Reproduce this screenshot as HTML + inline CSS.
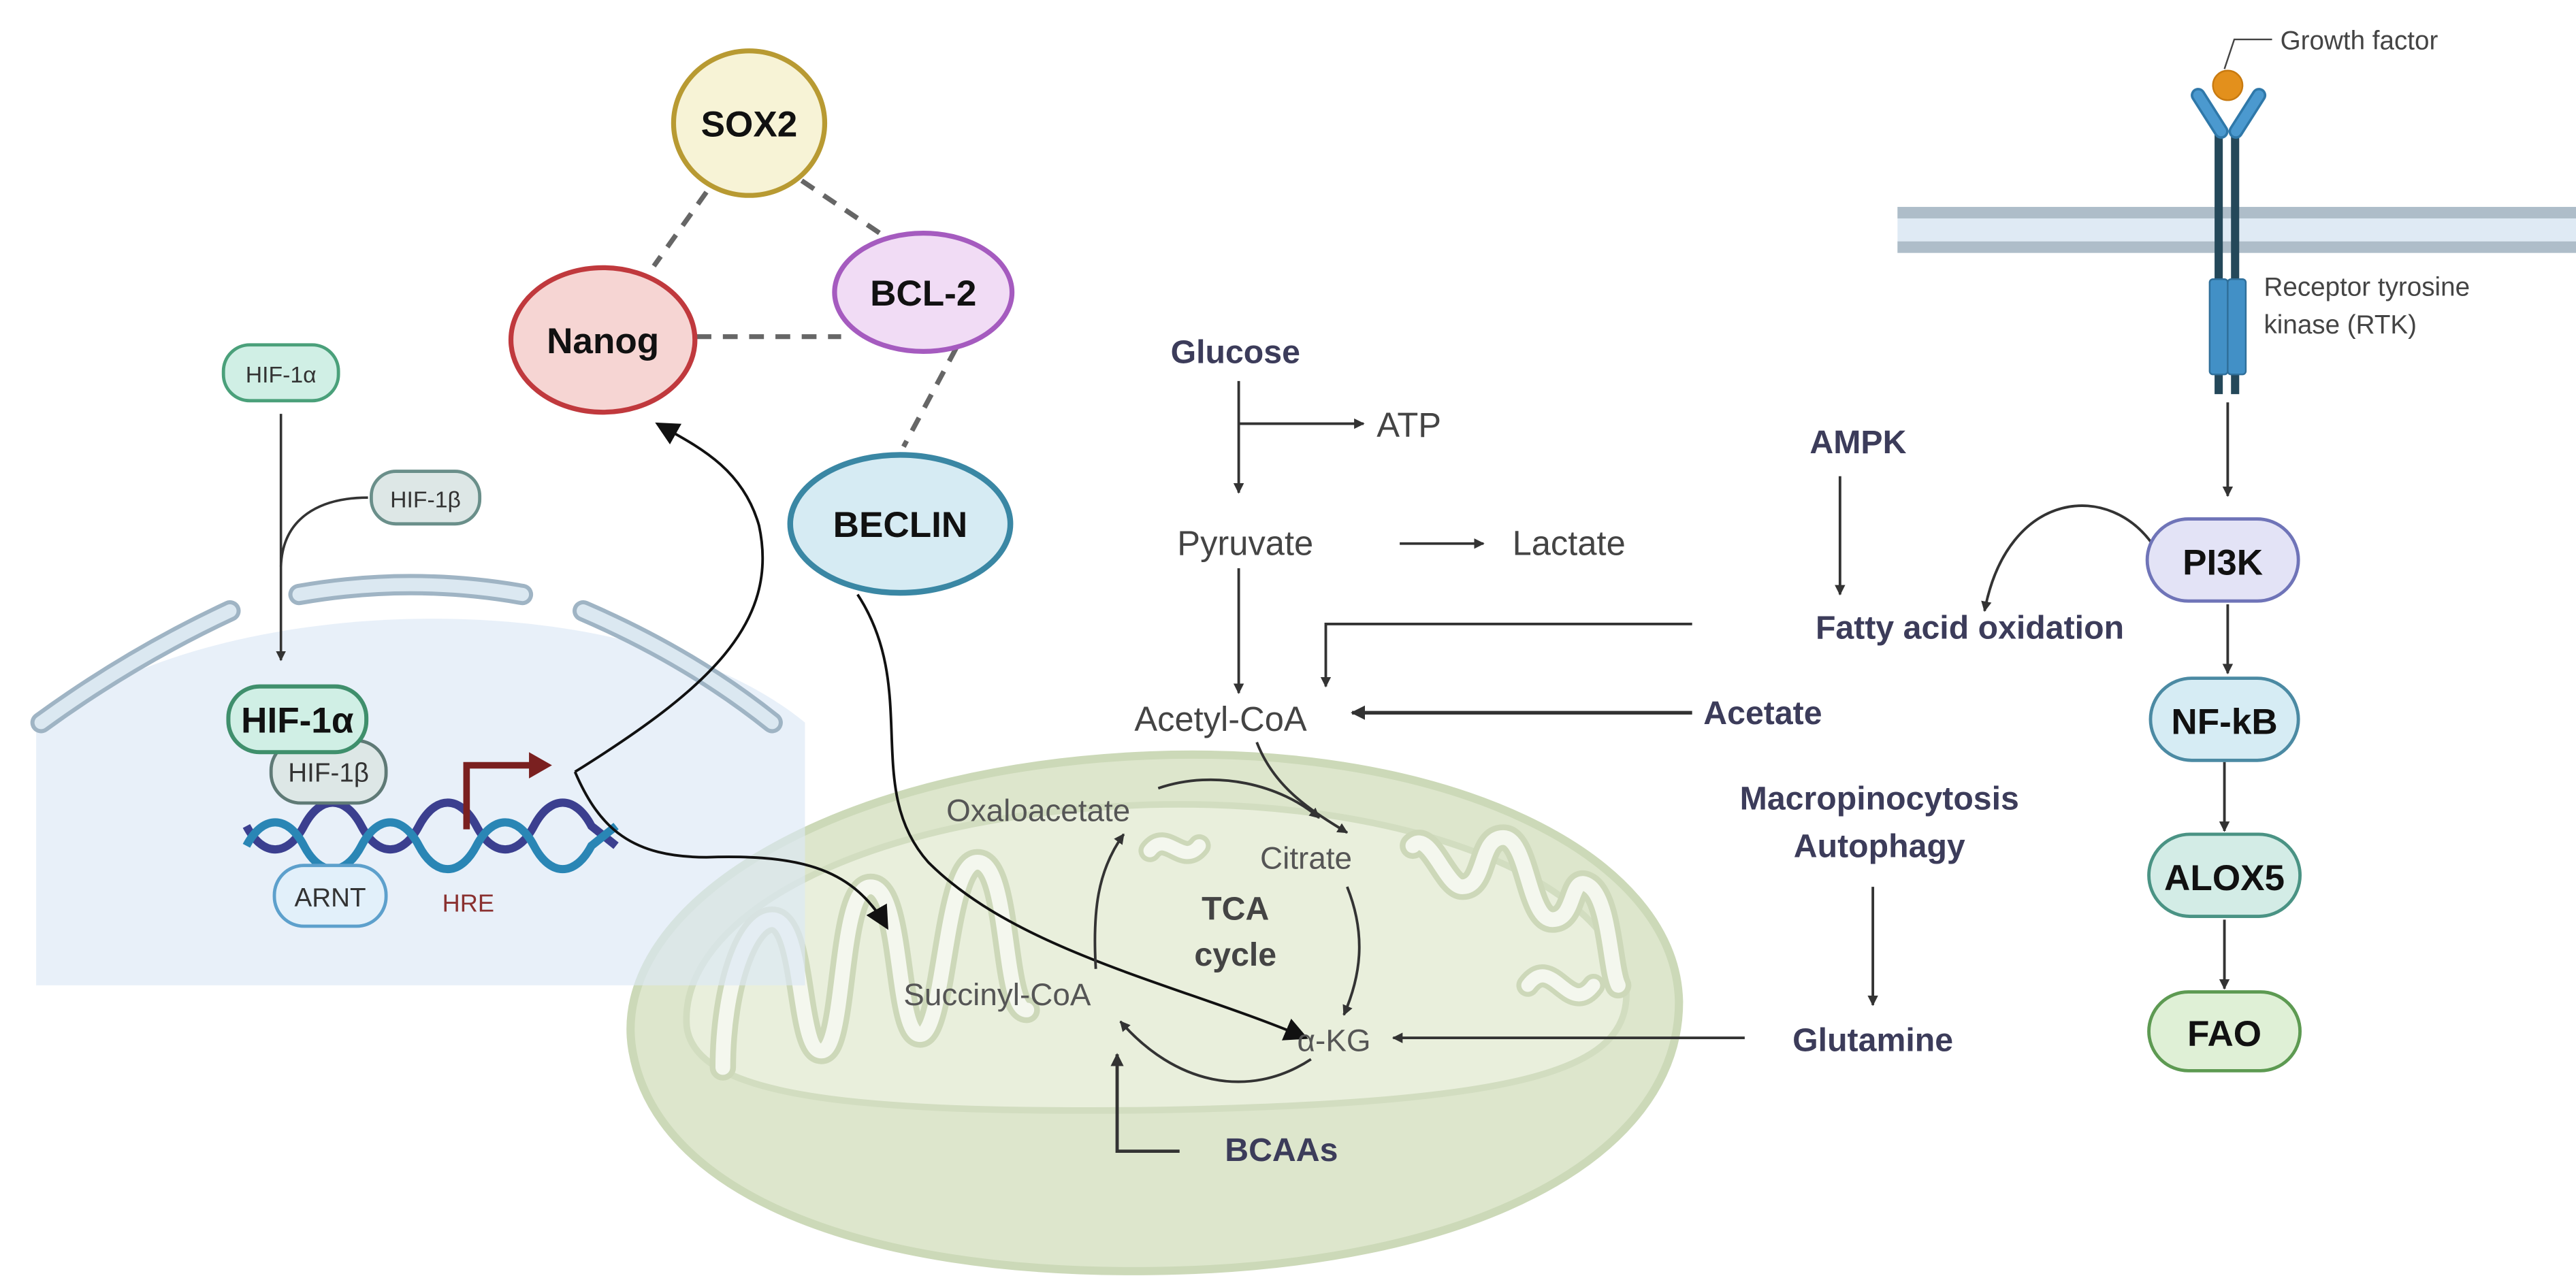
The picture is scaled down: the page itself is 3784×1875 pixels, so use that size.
<!DOCTYPE html>
<html><head><meta charset="utf-8"><style>
html,body{margin:0;padding:0;background:#fff;}
svg{display:block;}
text{font-family:"Liberation Sans",Arial,sans-serif;}
</style></head><body>
<svg width="3784" height="1875" viewBox="0 0 1568 777" preserveAspectRatio="none" xmlns="http://www.w3.org/2000/svg">
<defs>
<marker id="a" viewBox="0 0 10 10" refX="9" refY="5" markerWidth="4" markerHeight="4" orient="auto"><path d="M0,0 L10,5 L0,10 z" fill="#333"/></marker>
<marker id="b" viewBox="0 0 10 10" refX="9" refY="5" markerWidth="9" markerHeight="9" orient="auto"><path d="M0,0 L10,5 L0,10 z" fill="#111"/></marker>
</defs>
<rect width="1568" height="777" fill="#fff"/>

<!-- mitochondrion -->
<path d="M385 640 C370 555,500 468,700 460 C880 453,1020 520,1022 610 C1022 705,895 772,700 774 C520 776,400 725,385 640 Z" fill="#dde6cc" stroke="#ccd9b8" stroke-width="5"/>
<path d="M418 625 C413 560,520 496,700 490 C860 486,985 538,990 605 C990 650,935 672,700 676 C520 678,423 668,418 625 Z" fill="#e9efdc" stroke="#d2ddc0" stroke-width="4"/>
<g fill="none" stroke-linecap="round" stroke-linejoin="round">
<path id="cr" d="M440 650 C440 600,455 560,470 560 C490 560,485 640,500 640 C515 640,510 540,530 540 C550 540,545 630,560 630 C575 630,575 525,595 525 C615 525,610 615,625 615 M860 515 C870 505,880 540,890 540 C905 540,900 510,915 510 C930 510,930 560,945 560 C960 560,955 530,968 540 C980 550,980 590,985 600" stroke="#cdd8b9" stroke-width="16"/>
<path d="M440 650 C440 600,455 560,470 560 C490 560,485 640,500 640 C515 640,510 540,530 540 C550 540,545 630,560 630 C575 630,575 525,595 525 C615 525,610 615,625 615 M860 515 C870 505,880 540,890 540 C905 540,900 510,915 510 C930 510,930 560,945 560 C960 560,955 530,968 540 C980 550,980 590,985 600" stroke="#f4f7ee" stroke-width="9"/>
<path d="M700 518 C710 505,720 528,730 515 M930 600 C945 580,955 620,970 600" stroke="#cdd8b9" stroke-width="14"/>
<path d="M700 518 C710 505,720 528,730 515 M930 600 C945 580,955 620,970 600" stroke="#f4f7ee" stroke-width="8"/>
</g>

<!-- nucleus -->
<path d="M22 445 C120 360,380 350,490 440 L490 600 L22 600 Z" fill="#dce8f6" opacity="0.65"/>
<g fill="none" stroke-linecap="round">
<path d="M25 440 Q80 400 140 372" stroke="#9fb4c4" stroke-width="13"/>
<path d="M25 440 Q80 400 140 372" stroke="#dbe8f1" stroke-width="8"/>
<path d="M182 362 Q250 350 318 362" stroke="#9fb4c4" stroke-width="13"/>
<path d="M182 362 Q250 350 318 362" stroke="#dbe8f1" stroke-width="8"/>
<path d="M355 372 Q420 400 470 440" stroke="#9fb4c4" stroke-width="13"/>
<path d="M355 372 Q420 400 470 440" stroke="#dbe8f1" stroke-width="8"/>
</g>

<!-- DNA -->
<path d="M150 503 C160 522,175 522,185 503 C195 484,210 484,220 503 C230 522,245 522,255 503 C265 484,280 484,290 503 C300 522,315 522,325 503 C335 484,350 484,360 503 L375 515" fill="none" stroke="#3b3f8f" stroke-width="5"/>
<path d="M150 515 C160 496,175 496,185 515 C195 534,210 534,220 515 C230 496,245 496,255 515 C265 534,280 534,290 515 C300 496,315 496,325 515 C335 534,350 534,360 515 L375 503" fill="none" stroke="#2a86b5" stroke-width="5"/>

<rect x="167" y="527" width="68" height="37" rx="18" fill="#e2f0fa" stroke="#5da0cc" stroke-width="2"/>
<text x="201" y="552" font-size="16" text-anchor="middle" fill="#333">ARNT</text>
<text x="285" y="555" font-size="15" text-anchor="middle" fill="#8a3030">HRE</text>
<path d="M284 505 L284 466 L325 466" fill="none" stroke="#7a2020" stroke-width="4"/>
<path d="M322 458 L336 466 L322 474 Z" fill="#7a2020"/>

<rect x="165" y="451" width="70" height="38" rx="18" fill="#dde7e6" stroke="#5f7a76" stroke-width="2"/>
<text x="200" y="476" font-size="16" text-anchor="middle" fill="#333">HIF-1β</text>
<rect x="139" y="418" width="84" height="40" rx="19" fill="#d0efe5" stroke="#3f8f6c" stroke-width="2.5"/>
<text x="181" y="446" font-size="22" font-weight="bold" text-anchor="middle" fill="#111">HIF-1α</text>

<rect x="136" y="210" width="70" height="34" rx="16" fill="#d0efe5" stroke="#4aa07a" stroke-width="2"/>
<text x="171" y="233" font-size="14" text-anchor="middle" fill="#333">HIF-1α</text>
<rect x="226" y="287" width="66" height="32" rx="15" fill="#dde7e6" stroke="#6a8f8a" stroke-width="2"/>
<text x="259" y="309" font-size="14" text-anchor="middle" fill="#333">HIF-1β</text>
<path d="M171 252 L171 402" stroke="#333" stroke-width="1.5" marker-end="url(#a)"/>
<path d="M224 303 C195 303,172 315,171 345" fill="none" stroke="#333" stroke-width="1.5"/>

<!-- dashed -->
<g stroke="#666" stroke-width="3" stroke-dasharray="9,7">
<line x1="430" y1="117" x2="398" y2="162"/>
<line x1="488" y1="110" x2="540" y2="145"/>
<line x1="424" y1="205" x2="512" y2="205"/>
<line x1="582" y1="212" x2="550" y2="272"/>
</g>
<ellipse cx="456" cy="75" rx="46" ry="44" fill="#f7f3d6" stroke="#b89a32" stroke-width="3"/>
<text x="456" y="83" font-size="22" font-weight="bold" text-anchor="middle" fill="#111">SOX2</text>
<ellipse cx="367" cy="207" rx="56" ry="44" fill="#f6d5d3" stroke="#c0393d" stroke-width="3"/>
<text x="367" y="215" font-size="22" font-weight="bold" text-anchor="middle" fill="#111">Nanog</text>
<ellipse cx="562" cy="178" rx="54" ry="36" fill="#f1dcf5" stroke="#a55bbf" stroke-width="3"/>
<text x="562" y="186" font-size="22" font-weight="bold" text-anchor="middle" fill="#111">BCL-2</text>
<ellipse cx="548" cy="319" rx="67" ry="42" fill="#d6ebf3" stroke="#3a87a4" stroke-width="3.5"/>
<text x="548" y="327" font-size="22" font-weight="bold" text-anchor="middle" fill="#111">BECLIN</text>

<!-- long curves -->
<path d="M350 470 C430 420,475 380,462 320 C452 285,425 272,400 258" fill="none" stroke="#111" stroke-width="1.6" marker-end="url(#b)"/>
<path d="M350 470 C365 505,385 522,430 522 C490 520,520 530,540 565" fill="none" stroke="#111" stroke-width="1.6" marker-end="url(#b)"/>
<path d="M522 362 C560 420,525 480,565 525 C620 580,720 600,795 632" fill="none" stroke="#111" stroke-width="1.6" marker-end="url(#b)"/>

<!-- metabolism text -->
<g fill="#3c3c5a" font-weight="bold" font-size="20">
<text x="752" y="221" text-anchor="middle">Glucose</text>
<text x="1131" y="276" text-anchor="middle">AMPK</text>
<text x="1199" y="389" text-anchor="middle">Fatty acid oxidation</text>
<text x="1073" y="441" text-anchor="middle">Acetate</text>
<text x="1144" y="493" text-anchor="middle">Macropinocytosis</text>
<text x="1144" y="522" text-anchor="middle">Autophagy</text>
<text x="1140" y="640" text-anchor="middle">Glutamine</text>
<text x="780" y="707" text-anchor="middle">BCAAs</text>
</g>
<g fill="#444" font-size="21">
<text x="838" y="266">ATP</text>
<text x="758" y="338" text-anchor="middle">Pyruvate</text>
<text x="955" y="338" text-anchor="middle">Lactate</text>
<text x="743" y="445" text-anchor="middle">Acetyl-CoA</text>
</g>
<g fill="#555" font-size="19">
<text x="632" y="500" text-anchor="middle">Oxaloacetate</text>
<text x="795" y="529" text-anchor="middle">Citrate</text>
<text x="607" y="612" text-anchor="middle">Succinyl-CoA</text>
<text x="812" y="640" text-anchor="middle">α-KG</text>
</g>
<text x="752" y="560" font-size="20" font-weight="bold" fill="#444" text-anchor="middle">TCA</text>
<text x="752" y="588" font-size="20" font-weight="bold" fill="#444" text-anchor="middle">cycle</text>

<g stroke="#333" stroke-width="1.6" fill="none" marker-end="url(#a)">
<path d="M754 232 L754 300"/>
<path d="M754 258 L830 258"/>
<path d="M852 331 L903 331"/>
<path d="M754 346 L754 422"/>
<path d="M1120 290 L1120 362"/>
<path d="M1030 380 L807 380 L807 418"/>
<path d="M1030 434 L823 434" stroke-width="2.2"/>
<path d="M1140 540 L1140 612"/>
<path d="M1062 632 L848 632"/>
<path d="M765 452 C775 478,795 492,820 507"/>
<path d="M705 480 C740 468,780 478,803 498"/>
<path d="M820 540 C832 570,828 595,818 618"/>
<path d="M798 645 C760 670,715 660,682 622"/>
<path d="M667 590 C665 555,668 530,684 508"/>
<path d="M718 701 L680 701 L680 642" stroke-width="2"/>
<path d="M1356 245 L1356 302"/>
<path d="M1356 368 L1356 410"/>
<path d="M1354 464 L1354 506"/>
<path d="M1354 560 L1354 602"/>
<path d="M1312 334 C1285 292,1222 298,1208 372"/>
</g>

<!-- membrane & RTK -->
<rect x="1155" y="126" width="413" height="28" fill="#dfeaf4"/>
<rect x="1155" y="126" width="413" height="7" fill="#aebdc9"/>
<rect x="1155" y="147" width="413" height="7" fill="#aebdc9"/>
<g>
<rect x="1348" y="80" width="5" height="160" fill="#24485a"/>
<rect x="1358" y="80" width="5" height="160" fill="#24485a"/>
<path d="M1338 58 L1352 80" stroke="#2f78a9" stroke-width="9" stroke-linecap="round"/>
<path d="M1375 58 L1361 80" stroke="#2f78a9" stroke-width="9" stroke-linecap="round"/>
<path d="M1338 58 L1352 80" stroke="#4b99cf" stroke-width="6" stroke-linecap="round"/>
<path d="M1375 58 L1361 80" stroke="#4b99cf" stroke-width="6" stroke-linecap="round"/>
<rect x="1345" y="170" width="11" height="58" rx="2" fill="#4290c6" stroke="#2f6f9a" stroke-width="1"/>
<rect x="1356" y="170" width="11" height="58" rx="2" fill="#4290c6" stroke="#2f6f9a" stroke-width="1"/>
<circle cx="1356" cy="52" r="9" fill="#e3901c" stroke="#c87a10" stroke-width="1"/>
<path d="M1354 42 L1360 24 L1383 24" fill="none" stroke="#444" stroke-width="1"/>
</g>
<text x="1388" y="30" font-size="16" fill="#444">Growth factor</text>
<text x="1378" y="180" font-size="16" fill="#444">Receptor tyrosine</text>
<text x="1378" y="203" font-size="16" fill="#444">kinase (RTK)</text>

<rect x="1307" y="316" width="92" height="50" rx="25" fill="#e3e3f6" stroke="#6f74b8" stroke-width="2"/>
<text x="1353" y="350" font-size="22" font-weight="bold" text-anchor="middle" fill="#111">PI3K</text>
<rect x="1309" y="413" width="90" height="50" rx="25" fill="#d6ecf4" stroke="#4b8aa3" stroke-width="2"/>
<text x="1354" y="447" font-size="22" font-weight="bold" text-anchor="middle" fill="#111">NF-kB</text>
<rect x="1308" y="508" width="92" height="50" rx="25" fill="#d3ece6" stroke="#4a9384" stroke-width="2"/>
<text x="1354" y="542" font-size="22" font-weight="bold" text-anchor="middle" fill="#111">ALOX5</text>
<rect x="1308" y="604" width="92" height="48" rx="24" fill="#dff0d6" stroke="#5d9a52" stroke-width="2"/>
<text x="1354" y="637" font-size="22" font-weight="bold" text-anchor="middle" fill="#111">FAO</text>
</svg>
</body></html>
